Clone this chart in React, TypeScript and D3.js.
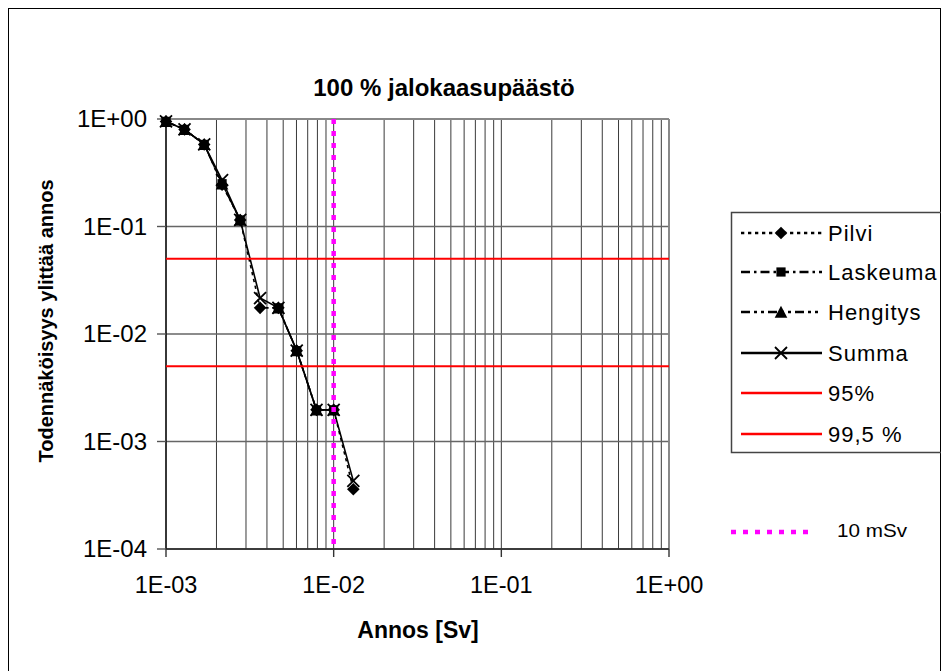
import React from "react";
import * as d3 from "d3";

// ---- data ----
const doses = [1.0e-3, 1.29e-3, 1.69e-3, 2.16e-3, 2.77e-3, 3.64e-3, 4.68e-3, 6.02e-3, 7.9e-3, 1.0e-2, 1.31e-2];
const pilvi = [0.95, 0.8, 0.58, 0.245, 0.115, 0.0175, 0.0175, 0.007, 0.00197, 0.00197, 0.00036];
const laskeuma = [0.95, 0.8, 0.58, 0.25, 0.115, null, 0.0175, 0.007, 0.00197, 0.00197, null];
const hengitys = [0.95, 0.8, 0.58, 0.25, 0.115, null, 0.0175, 0.007, 0.00197, 0.00197, null];
const summa = [0.95, 0.8, 0.58, 0.27, 0.115, 0.0216, 0.0175, 0.007, 0.00197, 0.00197, 0.00043];
const limit95 = 0.05;
const limit995 = 0.005;
const limitDose = 0.01;
const xTicks = [1e-3, 1e-2, 1e-1, 1];
const xTickLabels = ["1E-03", "1E-02", "1E-01", "1E+00"];
const yTicks = [1, 1e-1, 1e-2, 1e-3, 1e-4];
const yTickLabels = ["1E+00", "1E-01", "1E-02", "1E-03", "1E-04"];
const seriesNames = ["Pilvi", "Laskeuma", "Hengitys", "Summa", "95%", "99,5 %"];
const limitName = "10 mSv";
const title = "100 % jalokaasupäästö";
const xTitle = "Annos [Sv]";
const yTitle = "Todennäköisyys ylittää annos";

const FONT = "'Liberation Sans', Arial, sans-serif";

const L = 166, R = 669, T = 119, B = 549;

function Marker({ type, x, y }: { type: string; x: number; y: number }) {
  if (type === "diamond") {
    const s = 6.3;
    return <path d={`M${x},${y - s}L${x + s},${y}L${x},${y + s}L${x - s},${y}Z`} fill="#000" />;
  }
  if (type === "square") {
    const s = 4.6;
    return <rect x={x - s} y={y - s} width={2 * s} height={2 * s} fill="#000" />;
  }
  if (type === "triangle") {
    const s = 6.3;
    return <path d={`M${x},${y - s}L${x + s},${y + s * 0.9}L${x - s},${y + s * 0.9}Z`} fill="#000" />;
  }
  const s = 6;
  return (
    <path d={`M${x - s},${y - s}L${x + s},${y + s}M${x - s},${y + s}L${x + s},${y - s}`} stroke="#000" strokeWidth={1.8} />
  );
}

export default function App() {
  const x = d3.scaleLog().domain([1e-3, 1]).range([L, R]);
  const y = d3.scaleLog().domain([1e-4, 1]).range([B, T]);

  const minor: number[] = [];
  for (let e = -3; e < 0; e++) {
    for (let m = 1; m <= 9; m++) minor.push(m * Math.pow(10, e));
  }
  minor.push(1);

  const series = [
    { name: seriesNames[0], vals: pilvi, marker: "diamond", dash: "3.3,3.7" },
    { name: seriesNames[1], vals: laskeuma, marker: "square", dash: "9,4,2.5,4" },
    { name: seriesNames[2], vals: hengitys, marker: "triangle", dash: "9,4,3,4,3,4" },
    { name: seriesNames[3], vals: summa, marker: "x", dash: undefined },
  ];

  const line = d3
    .line<[number, number | null]>()
    .defined((d) => d[1] != null)
    .x((d) => x(d[0]))
    .y((d) => y(d[1] as number));

  const legX = 731.5, legTop = 212.5, legBottom = 452.5;
  const rowY = [233, 272, 312, 353, 393, 434];

  return (
    <svg width={933} height={663} style={{ display: "block" }}>
      <g transform="translate(-8,-8)">
        <rect x={8.5} y={8.5} width={932} height={700} fill="#fff" stroke="#000" strokeWidth={1} />
        <text x={444} y={96} textAnchor="middle" fontFamily={FONT} fontWeight="bold" fontSize={24}>
          {title}
        </text>

        {/* vertical gridlines */}
        {minor.map((v, i) => (
          <line key={"v" + i} x1={x(v)} x2={x(v)} y1={T} y2={B} stroke="#3a3a3a" strokeWidth={1} />
        ))}
        {/* horizontal gridlines */}
        {yTicks.map((v, i) => (
          <line key={"h" + i} x1={L} x2={R} y1={y(v)} y2={y(v)} stroke="#666" strokeWidth={1.4} />
        ))}
        {/* plot border top/right */}
        <line x1={L} x2={R} y1={T} y2={T} stroke="#888" strokeWidth={1.8} />
        <line x1={R} x2={R} y1={T} y2={B} stroke="#888" strokeWidth={1.8} />
        {/* axes */}
        <line x1={L} x2={L} y1={T} y2={B} stroke="#000" strokeWidth={1.3} />
        <line x1={L} x2={R} y1={B} y2={B} stroke="#222" strokeWidth={1.5} />
        {yTicks.map((v, i) => (
          <g key={"yt" + i}>
            <line x1={L - 9} x2={L} y1={y(v)} y2={y(v)} stroke="#555" strokeWidth={1.4} />
            <text x={147} y={y(v) + 8} textAnchor="end" fontFamily={FONT} fontSize={24}>
              {yTickLabels[i]}
            </text>
          </g>
        ))}
        {xTicks.map((v, i) => (
          <g key={"xt" + i}>
            <line x1={x(v)} x2={x(v)} y1={B} y2={B + 8} stroke="#333" strokeWidth={1.4} />
            <text x={x(v)} y={B + 44} textAnchor="middle" fontFamily={FONT} fontSize={23.5}>
              {xTickLabels[i]}
            </text>
          </g>
        ))}
        <text x={418} y={638} textAnchor="middle" fontFamily={FONT} fontWeight="bold" fontSize={23}>
          {xTitle}
        </text>
        <text
          transform={`translate(53,321) rotate(-90)`}
          textAnchor="middle"
          fontFamily={FONT}
          fontWeight="bold"
          fontSize={20}
        >
          {yTitle}
        </text>

        {/* series lines */}
        {series.map((s, i) => {
          const pts = doses.map((d, j) => [d, s.vals[j]] as [number, number | null]);
          return (
            <path key={"s" + i} d={line(pts) || ""} fill="none" stroke="#000" strokeWidth={1.6} strokeDasharray={s.dash} />
          );
        })}
        {series.map((s, i) =>
          doses.map((d, j) =>
            s.vals[j] == null ? null : <Marker key={"m" + i + "-" + j} type={s.marker} x={x(d)} y={y(s.vals[j] as number)} />
          )
        )}

        {/* limits */}
        <line x1={L} x2={R} y1={y(limit95)} y2={y(limit95)} stroke="#ff0000" strokeWidth={2} />
        <line x1={L} x2={R} y1={y(limit995)} y2={y(limit995)} stroke="#ff0000" strokeWidth={2} />
        <line x1={x(limitDose)} x2={x(limitDose)} y1={T} y2={B} stroke="#ff00ff" strokeWidth={4.5} strokeDasharray="5,7" />

        {/* legend */}
        <path d={`M950,${legTop}H${legX}V${legBottom}H950`} fill="none" stroke="#444" strokeWidth={1.5} />
        {series.map((s, i) => (
          <g key={"lg" + i}>
            <line x1={741} x2={822} y1={rowY[i]} y2={rowY[i]} stroke="#000" strokeWidth={2.3} strokeDasharray={s.dash} />
            <Marker type={s.marker} x={781} y={rowY[i]} />
            <text x={828} y={rowY[i] + 8} fontFamily={FONT} fontSize={22} letterSpacing={1}>
              {s.name}
            </text>
          </g>
        ))}
        {[4, 5].map((i) => (
          <g key={"lg" + i}>
            <line x1={741} x2={822} y1={rowY[i]} y2={rowY[i]} stroke="#ff0000" strokeWidth={2.3} />
            <text x={828} y={rowY[i] + 8} fontFamily={FONT} fontSize={22} letterSpacing={1}>
              {seriesNames[i]}
            </text>
          </g>
        ))}
        <line x1={731} x2={811} y1={532} y2={532} stroke="#ff00ff" strokeWidth={4.5} strokeDasharray="5,7" />
        <text x={837} y={537} fontFamily={FONT} fontSize={19} textLength={70} lengthAdjust="spacingAndGlyphs">
          {limitName}
        </text>
      </g>
    </svg>
  );
}
